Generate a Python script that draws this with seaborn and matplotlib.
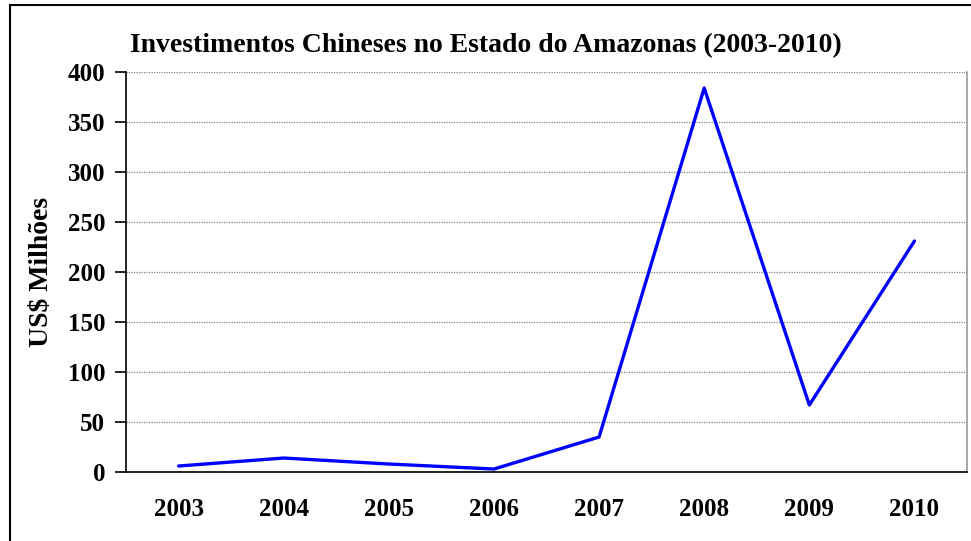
import numpy as np
import pandas as pd
import matplotlib.pyplot as plt
import seaborn as sns
from matplotlib.patches import Rectangle

# values (US$ millions)
years = ['2003', '2004', '2005', '2006', '2007', '2008', '2009', '2010']
invest = [6, 14, 8, 3, 35, 384, 67, 231]
y_ticks = [0, 50, 100, 150, 200, 250, 300, 350, 400]

df = pd.DataFrame({'ano': years, 'valor': invest})

sns.set_style('white')
plt.rcParams['font.family'] = ['Liberation Serif', 'DejaVu Serif']
plt.rcParams['font.weight'] = 'bold'
plt.rcParams['text.color'] = 'black'
plt.rcParams['axes.labelcolor'] = 'black'
plt.rcParams['xtick.color'] = 'black'
plt.rcParams['ytick.color'] = 'black'

fig = plt.figure(figsize=(9.71, 5.41), dpi=100)
ax = fig.add_axes([0.1298, 0.1275, 0.8661, 0.7394])

sns.lineplot(data=df, x='ano', y='valor', color='#0000ff', linewidth=2.4, ax=ax, sort=False)

ax.set_ylim(0, 400)
ax.set_xlim(-0.5, len(years) - 0.5)
ax.set_yticks(y_ticks)
ax.set_yticklabels([str(v) for v in y_ticks], fontsize=18, fontweight='bold')
ax.set_xticks(range(len(years)))
ax.set_xticklabels(years, fontsize=18, fontweight='bold')
ax.set_xticks(np.arange(-0.5, len(years)), minor=True)
ax.tick_params(axis='x', which='major', length=0, pad=19)
ax.tick_params(axis='x', which='minor', length=8, width=1.2, color='black', direction='out')
ax.tick_params(axis='y', length=8, width=1.2, color='black', direction='out', left=True, pad=7)

ax.yaxis.grid(True, color='#808080', linestyle=(0, (1, 1)), linewidth=0.9)
ax.set_axisbelow(True)

ax.spines['top'].set_visible(False)
ax.spines['right'].set_color('#999999')
ax.spines['right'].set_linewidth(1.2)
for side in ['left', 'bottom']:
    ax.spines[side].set_color('black')
    ax.spines[side].set_linewidth(1.2)

ax.set_xlabel('')
ax.set_ylabel('US$ Milhões', fontsize=20, fontweight='bold', labelpad=10)

fig.text(0.5, 0.916, 'Investimentos Chineses no Estado do Amazonas (2003-2010)',
         ha='center', va='center', fontsize=20, fontweight='bold')

# outer chart frame (only left and top visible in the cropped reference)
fig.patches.append(Rectangle((0.0105, -0.05), 1.05, 1.04, transform=fig.transFigure,
                             fill=False, edgecolor='black', linewidth=1.5))

fig.savefig('out.png', dpi=100)
